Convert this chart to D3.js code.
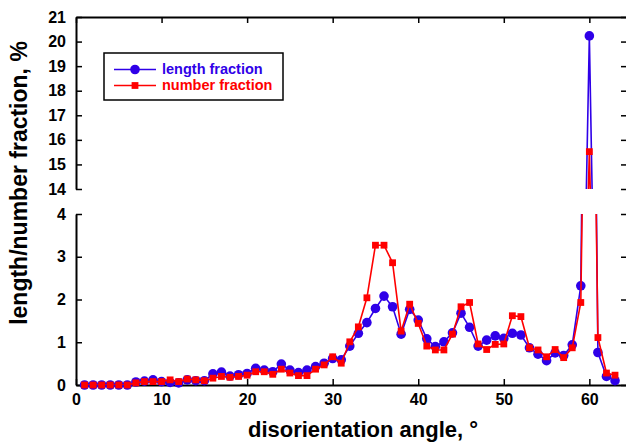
<!DOCTYPE html>
<html lang="en">
<head>
<meta charset="UTF-8">
<title>Disorientation angle distribution</title>
<script src="https://d3js.org/d3.v7.min.js"></script>
<style>
    body { margin: 0; background: #fff; }
    svg { display: block; font-family: "Liberation Sans", Arial, sans-serif; }
    .tick text { font-size: 16px; font-weight: bold; fill: #000; }
    .axis-title { font-size: 22px; font-weight: bold; fill: #000; }
    .legend-text { font-size: 14.5px; font-weight: bold; }
</style>
</head>
<body>
<svg width="626" height="443"></svg>
<script>
// data: misorientation angle (deg) vs. fraction (%)
var angles = [1,2,3,4,5,6,7,8,9,10,11,12,13,14,15,16,17,18,19,20,
    21,22,23,24,25,26,27,28,29,30,31,32,33,34,35,36,37,38,39,40,
    41,42,43,44,45,46,47,48,49,50,51,52,53,54,55,56,57,58,59,60,61,62,63];
var lengthFraction = [0,0,0,0,0,0,0.07,0.09,0.12,0.08,0.06,0.05,0.12,0.1,0.1,0.26,0.3,0.21,0.24,0.27,
    0.39,0.35,0.31,0.49,0.35,0.29,0.35,0.43,0.51,0.62,0.59,0.91,1.21,1.46,1.79,2.08,1.83,1.19,1.77,1.52,
    1.08,0.9,1.01,1.22,1.68,1.35,0.91,1.05,1.15,1.09,1.21,1.17,0.87,0.72,0.57,0.75,0.69,0.94,2.32,20.23,0.76,0.2,0.1];
var numberFraction = [0,0,0,0,0,0,0.05,0.08,0.08,0.08,0.12,0.08,0.14,0.12,0.1,0.16,0.2,0.18,0.2,0.23,
    0.31,0.31,0.25,0.37,0.28,0.22,0.22,0.37,0.47,0.66,0.51,1.01,1.36,2.04,3.27,3.27,2.86,1.26,1.89,1.44,
    0.91,0.82,0.82,1.19,1.83,1.93,0.96,0.83,0.95,0.96,1.62,1.6,0.87,0.82,0.66,0.83,0.64,0.87,1.93,15.52,1.11,0.28,0.23];
var xTicks = [0,10,20,30,40,50,60];
var upperTicks = [14,15,16,17,18,19,20,21];
var lowerTicks = [0,1,2,3,4];

var svg = d3.select("svg");
var left = 76, right = 627;

var x = d3.scaleLinear().domain([0, 64.4]).range([left, right]);
var yUp = d3.scaleLinear().domain([14, 21]).range([189, 17]);
var yLo = d3.scaleLinear().domain([0, 4]).range([385, 214]);

var defs = svg.append("defs");
defs.append("clipPath").attr("id", "clipUp").append("rect")
    .attr("x", left).attr("y", 17).attr("width", right - left).attr("height", 189 - 17);
defs.append("clipPath").attr("id", "clipLo").append("rect")
    .attr("x", left).attr("y", 214).attr("width", right - left).attr("height", 385 - 214);

// axes
function styleAxis(g) {
    g.select(".domain").attr("stroke", "#000").attr("stroke-width", 2);
    g.selectAll(".tick line").attr("stroke", "#000").attr("stroke-width", 1.5);
}

svg.append("g").attr("transform", "translate(" + left + ",0)")
    .call(d3.axisLeft(yUp).tickValues(upperTicks).tickSizeInner(-6).tickSizeOuter(0).tickPadding(10).tickFormat(d3.format("d")))
    .call(styleAxis);
svg.append("g").attr("transform", "translate(" + left + ",0)")
    .call(d3.axisLeft(yLo).tickValues(lowerTicks).tickSizeInner(-6).tickSizeOuter(0).tickPadding(10).tickFormat(d3.format("d")))
    .call(styleAxis);
svg.append("g").attr("transform", "translate(" + right + ",0)")
    .call(d3.axisRight(yUp).tickValues(upperTicks).tickSizeInner(-6).tickSizeOuter(0).tickFormat(""))
    .call(styleAxis);
svg.append("g").attr("transform", "translate(" + right + ",0)")
    .call(d3.axisRight(yLo).tickValues(lowerTicks).tickSizeInner(-6).tickSizeOuter(0).tickFormat(""))
    .call(styleAxis);
svg.append("g").attr("transform", "translate(0,385)")
    .call(d3.axisBottom(x).tickValues(xTicks).tickSizeInner(-6).tickSizeOuter(0).tickPadding(9))
    .call(styleAxis);
svg.append("g").attr("transform", "translate(0,17)")
    .call(d3.axisTop(x).tickValues(xTicks).tickSizeInner(-6).tickSizeOuter(0).tickFormat(""))
    .call(styleAxis);

// series
var series = [
    {name: "length fraction", values: lengthFraction, color: "#2f00e8", shape: "circle"},
    {name: "number fraction", values: numberFraction, color: "#ff0000", shape: "square"}
];

function drawMarker(sel, s) {
    if (s.shape === "circle") {
        sel.append("circle").attr("r", 4.8).attr("fill", s.color);
    } else {
        sel.append("rect").attr("x", -3.4).attr("y", -3.4).attr("width", 6.8).attr("height", 6.8).attr("fill", s.color);
    }
}

series.forEach(function(s) {
    var pts = angles.map(function(a, i) { return {a: a, v: s.values[i]}; });
    [[yUp, "clipUp", 14, 21], [yLo, "clipLo", 0, 4]].forEach(function(p) {
        var y = p[0];
        var line = d3.line().x(function(d) { return x(d.a); }).y(function(d) { return y(d.v); });
        svg.append("path").datum(pts)
            .attr("clip-path", "url(#" + p[1] + ")")
            .attr("fill", "none").attr("stroke", s.color).attr("stroke-width", 1.6)
            .attr("d", line);
        svg.append("g").selectAll("g")
            .data(pts.filter(function(d) { return d.v >= p[2] && d.v <= p[3]; }))
            .join("g")
            .attr("transform", function(d) { return "translate(" + x(d.a) + "," + y(d.v) + ")"; })
            .each(function() { drawMarker(d3.select(this), s); });
    });
});

// legend
var legend = svg.append("g");
legend.append("rect").attr("x", 104).attr("y", 53).attr("width", 179).attr("height", 47)
    .attr("fill", "#fff").attr("stroke", "#000").attr("stroke-width", 1.5);
series.forEach(function(s, i) {
    var ly = 69.5 + i * 16;
    legend.append("line").attr("x1", 114).attr("x2", 156).attr("y1", ly).attr("y2", ly)
        .attr("stroke", s.color).attr("stroke-width", 1.3);
    drawMarker(legend.append("g").attr("transform", "translate(135," + ly + ")"), s);
    legend.append("text").attr("class", "legend-text").attr("x", 162).attr("y", ly + 4.5)
        .attr("fill", s.color).text(s.name);
});

// axis titles
svg.append("text").attr("class", "axis-title").attr("text-anchor", "middle")
    .attr("x", 363).attr("y", 437).text("disorientation angle, \u00b0");
svg.append("text").attr("class", "axis-title").attr("text-anchor", "middle")
    .style("font-size", "23px")
    .attr("transform", "translate(27,183) rotate(-90)").text("length/number fraction, %");
</script>
</body>
</html>
